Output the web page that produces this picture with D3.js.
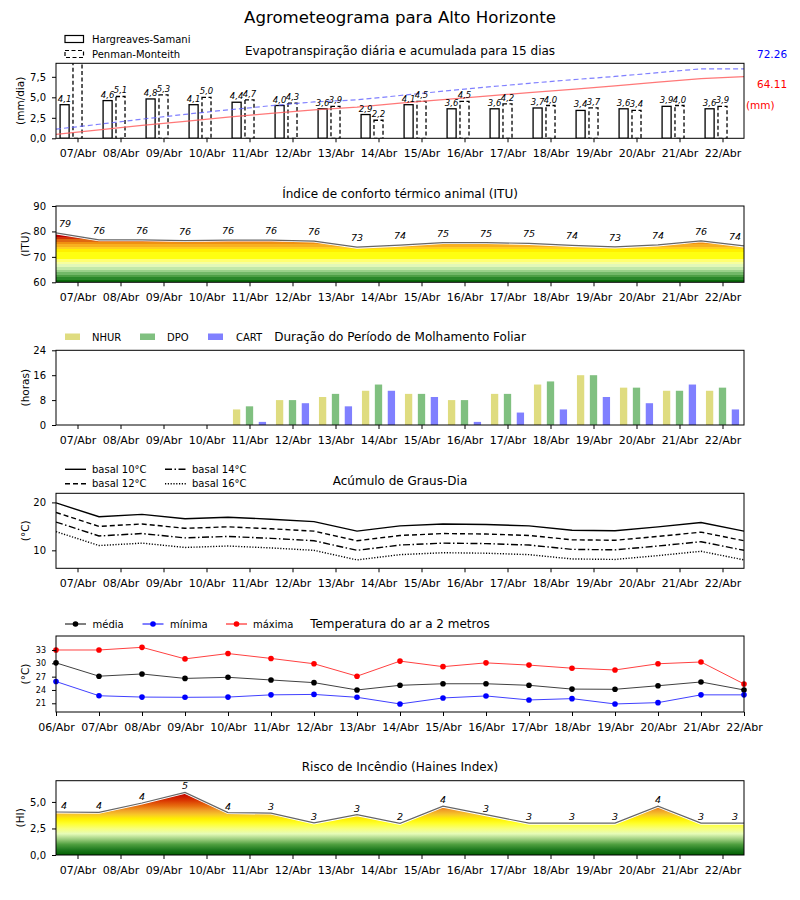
<!DOCTYPE html>
<html><head><meta charset="utf-8">
<script src="https://cdn.jsdelivr.net/npm/d3@7"></script>
<style>
body{margin:0;background:#fff}
text{font-family:"DejaVu Sans",sans-serif}
</style>
</head><body>
<svg id="c" width="800" height="900"></svg>
<script>
// ---------------- DATA ----------------
const dias = [7,8,9,10,11,12,13,14,15,16,17,18,19,20,21,22];
const diasTemp = [6,7,8,9,10,11,12,13,14,15,16,17,18,19,20,21,22];
const meioDias = [6.5,7.5,8.5,9.5,10.5,11.5,12.5,13.5,14.5,15.5,16.5,17.5,18.5,19.5,20.5,21.5,22.5];

// Evapotranspiração (mm/dia)
const etHargreaves = [4.1,4.6,4.8,4.1,4.4,4.0,3.6,2.9,4.1,3.6,3.6,3.7,3.4,3.6,3.9,3.6];
const etPenman     = [9.5,5.1,5.3,5.0,4.7,4.3,3.9,2.2,4.5,4.5,4.2,4.0,3.7,3.4,4.0,3.9];
const acumHargreaves = [4.1,8.7,13.5,17.6,22.0,26.0,29.6,32.5,36.6,40.2,43.8,47.5,50.9,54.5,58.4,62.0,64.11];
const acumPenman     = [9.5,14.6,19.9,24.9,29.6,33.9,37.8,40.0,44.5,49.0,53.2,57.2,60.9,64.3,68.3,72.26,72.26];

// ITU
const itu = [79.4,76.7,76.7,76.4,76.6,76.6,76.2,73.8,74.6,75.6,75.6,75.3,74.5,73.9,74.7,76.3,74.3];

// Molhamento foliar (horas)
const nhur = [0,0,0,0,5,8,9,11,10,8,10,13,16,12,11,11];
const dpo  = [0,0,0,0,6,8,10,13,10,8,10,14,16,12,11,12];
const cart = [0,0,0,0,1,7,6,11,9,1,4,5,9,7,13,5];

// Graus-dia
const basal10 = [19.9,17.0,17.5,16.6,16.9,16.5,16.0,14.0,15.1,15.5,15.4,15.1,14.2,14.1,14.9,15.8,14.0];
const basal12 = [17.9,15.0,15.5,14.6,14.9,14.5,14.0,12.0,13.1,13.5,13.4,13.1,12.2,12.1,12.9,13.8,12.0];
const basal14 = [15.9,13.0,13.5,12.6,12.9,12.5,12.0,10.0,11.1,11.5,11.4,11.1,10.2,10.1,10.9,11.8,10.0];
const basal16 = [13.9,11.0,11.5,10.6,10.9,10.5,10.0,8.0,9.1,9.5,9.4,9.1,8.2,8.1,8.9,9.8,8.0];

// Temperatura (°C)
const tMedia  = [30.1,27.1,27.6,26.6,26.85,26.25,25.65,24.0,25.05,25.4,25.4,25.05,24.2,24.15,24.95,25.8,24.0];
const tMinima = [25.9,22.7,22.4,22.35,22.4,22.9,23.0,22.35,20.85,22.2,22.65,21.75,22.05,20.85,21.15,22.9,22.9];
const tMaxima = [33.0,33.0,33.6,31.0,32.2,31.1,29.9,27.1,30.5,29.25,30.1,29.6,28.9,28.5,29.9,30.3,25.35];

// Haines
const haines = [4.05,4.02,4.9,5.9,4.0,3.95,3.02,3.8,2.98,4.6,3.8,3.0,3.0,3.0,4.6,3.0,3.0];

// tick values
const etTicks = [0,2.5,5,7.5];
const ituTicks = [60,70,80,90];
const molTicks = [0,8,16,24];
const gdTicks = [10,20];
const tTicks = [21,24,27,30,33];
const hiTicks = [0,2.5,5];

// ---------------- LAYOUT ----------------
const svg = d3.select("#c");
const W0 = 56, W1 = 744;
const xDay = d3.scaleLinear().domain([6.5,22.5]).range([W0,W1]);
const xTemp = d3.scaleLinear().domain([6,22]).range([W0,W1]);
const fmtDay = d => String(d).padStart(2,"0") + "/Abr";
const comma1 = d => d3.format(".1f")(d).replace(".", ",");
const defs = svg.append("defs");

svg.append("text").attr("x",400).attr("y",23).attr("text-anchor","middle")
  .attr("font-size",16.6).text("Agrometeograma para Alto Horizonte");

function clip(id, top, bottom){
  defs.append("clipPath").attr("id",id).append("rect")
    .attr("x",W0).attr("y",top).attr("width",W1-W0).attr("height",bottom-top);
}

function frame(top, bottom, x, y, o){
  const g = svg.append("g");
  const ax = g.append("g").attr("transform",`translate(0,${bottom})`)
    .call(d3.axisBottom(x).tickValues(o.xTicks).tickFormat(fmtDay).tickSize(4).tickPadding(7).tickSizeOuter(0));
  ax.select(".domain").remove();
  ax.selectAll("text").attr("font-size",11).attr("font-family","DejaVu Sans");
  const ay = g.append("g").attr("transform",`translate(${W0},0)`)
    .call(d3.axisLeft(y).tickValues(o.yTicks).tickFormat(o.yFmt).tickSize(4).tickPadding(6).tickSizeOuter(0));
  ay.select(".domain").remove();
  ay.selectAll("text").attr("font-size",o.yFont||10).attr("font-family","DejaVu Sans");
  g.append("rect").attr("x",W0).attr("y",top).attr("width",W1-W0).attr("height",bottom-top)
    .attr("fill","none").attr("stroke","#000").attr("stroke-width",1);
  g.append("text").attr("transform",`translate(${o.ylx},${(top+bottom)/2}) rotate(-90)`)
    .attr("text-anchor","middle").attr("dy","0.35em").attr("font-size",10.5).text(o.ylabel);
  g.append("text").attr("x",400).attr("y",o.titleY).attr("text-anchor","middle")
    .attr("font-size",12).text(o.title);
}

// ---------------- PANEL 1: ET ----------------
{
  const top=63.3, bottom=138.3;
  const y = d3.scaleLinear().domain([0,9.15]).range([bottom,top]);
  const y2 = d3.scaleLinear().domain([0,78]).range([bottom,top]);
  clip("cp1", top, bottom);
  const g = svg.append("g").attr("clip-path","url(#cp1)");
  const bw = xDay(0.21)-xDay(0);
  g.selectAll(".hs").data(dias).enter().append("rect")
    .attr("x",(d)=>xDay(d-0.3)-bw/2).attr("y",(d,i)=>y(etHargreaves[i]))
    .attr("width",bw).attr("height",(d,i)=>y(0)-y(etHargreaves[i]))
    .attr("fill","#fff").attr("stroke","#000").attr("stroke-width",1.3);
  g.selectAll(".pm").data(dias).enter().append("rect")
    .attr("x",(d)=>xDay(d)-bw/2).attr("y",(d,i)=>y(etPenman[i]))
    .attr("width",bw).attr("height",(d,i)=>y(0)-y(etPenman[i]))
    .attr("fill","#fff").attr("stroke","#000").attr("stroke-width",1.3).attr("stroke-dasharray","4,2.5");
  const lh = d3.line().x((d,i)=>xDay(meioDias[i])).y(d=>y2(d));
  g.append("path").attr("d",lh(acumHargreaves)).attr("fill","none").attr("stroke","#ff6060").attr("stroke-opacity",0.85).attr("stroke-width",1.2);
  g.append("path").attr("d",lh(acumPenman)).attr("fill","none").attr("stroke","#6060ff").attr("stroke-opacity",0.8).attr("stroke-width",1.2).attr("stroke-dasharray","5,3");
  const lg = svg.append("g").attr("font-style","italic").attr("font-size",8.5).attr("text-anchor","middle");
  dias.forEach((d,i)=>{
    lg.append("text").attr("x",xDay(d-0.3)).attr("y",y(etHargreaves[i])-3).text(comma1(etHargreaves[i]));
    if (etPenman[i] <= y.domain()[1])
      lg.append("text").attr("x",xDay(d)).attr("y",y(etPenman[i])-3).text(comma1(etPenman[i]));
  });
  frame(top,bottom,xDay,y,{xTicks:dias,yTicks:etTicks,yFmt:comma1,ylabel:"(mm/dia)",ylx:20,
    title:"Evapotranspiração diária e acumulada para 15 dias",titleY:55});
  svg.append("text").attr("x",757).attr("y",58).attr("font-size",10.5).attr("fill","blue")
    .text(acumPenman[acumPenman.length-1].toFixed(2));
  svg.append("text").attr("x",757).attr("y",88).attr("font-size",10.5).attr("fill","red")
    .text(acumHargreaves[acumHargreaves.length-1].toFixed(2));
  svg.append("text").attr("x",746).attr("y",109).attr("font-size",10.5).attr("fill","red").text("(mm)");
  // legend
  const L = svg.append("g").attr("font-size",10);
  L.append("rect").attr("x",65).attr("y",35.5).attr("width",18.5).attr("height",7).attr("fill","#fff").attr("stroke","#000").attr("stroke-width",1.2);
  L.append("rect").attr("x",65).attr("y",50.5).attr("width",18.5).attr("height",7).attr("fill","#fff").attr("stroke","#000").attr("stroke-width",1.2).attr("stroke-dasharray","4,2.5");
  L.append("text").attr("x",92).attr("y",42.5).text("Hargreaves-Samani");
  L.append("text").attr("x",92).attr("y",57.5).text("Penman-Monteith");
}

// ---------------- PANEL 2: ITU ----------------
{
  const top=206, bottom=282.3;
  const y = d3.scaleLinear().domain([60,90]).range([bottom,top]);
  const edges = [60,61,62,63,64,65,66,67,68,69,72,73,74,75,76,77,78,80];
  const cols = ["#0b6b0b","#2a872a","#4d9f45","#72b868","#9ad08a","#c2e8a8","#e2f8b8","#f6ffa0","#ffff70","#ffff10","#fff000","#ffd020","#f8b020","#f09010","#e06810","#d03008","#c00000"];
  const gr = defs.append("linearGradient").attr("id","gITU").attr("gradientUnits","userSpaceOnUse")
    .attr("x1",0).attr("x2",0).attr("y1",y(60)).attr("y2",y(80));
  cols.forEach((c,i)=>{
    gr.append("stop").attr("offset",(edges[i]-60)/20).attr("stop-color",c);
    gr.append("stop").attr("offset",(edges[i+1]-60)/20).attr("stop-color",c);
  });
  clip("cp2", top, bottom);
  const g = svg.append("g").attr("clip-path","url(#cp2)");
  const area = d3.area().x((d,i)=>xDay(meioDias[i])).y0(y(60)).y1(d=>y(d));
  const line = d3.line().x((d,i)=>xDay(meioDias[i])).y(d=>y(d));
  g.append("path").attr("d",area(itu)).attr("fill","url(#gITU)");
  g.append("path").attr("d",line(itu)).attr("fill","none").attr("stroke","#fff").attr("stroke-width",3);
  g.append("path").attr("d",line(itu)).attr("fill","none").attr("stroke","#666").attr("stroke-width",1.2);
  const lg = svg.append("g").attr("font-style","italic").attr("font-size",9.5).attr("text-anchor","middle");
  itu.forEach((v,i)=>{
    const x = Math.max(W0+9, Math.min(W1-9, xDay(meioDias[i])));
    lg.append("text").attr("x",x).attr("y",y(v)-6).text(Math.floor(v));
  });
  frame(top,bottom,xDay,y,{xTicks:dias,yTicks:ituTicks,yFmt:d3.format("d"),ylabel:"(ITU)",ylx:25,
    title:"Índice de conforto térmico animal (ITU)",titleY:198});
}

// ---------------- PANEL 3: Molhamento ----------------
{
  const top=350.3, bottom=425;
  const y = d3.scaleLinear().domain([0,24]).range([bottom,top]);
  const bw = xDay(0.17)-xDay(0);
  const series = [[nhur,-0.3,"#dfdc80"],[dpo,0,"#80c080"],[cart,0.3,"#8080ff"]];
  const g = svg.append("g");
  series.forEach(([vals,off,col])=>{
    g.selectAll(null).data(dias).enter().append("rect")
      .attr("x",d=>xDay(d+off)-bw/2).attr("y",(d,i)=>y(vals[i]))
      .attr("width",bw).attr("height",(d,i)=>y(0)-y(vals[i])).attr("fill",col);
  });
  frame(top,bottom,xDay,y,{xTicks:dias,yTicks:molTicks,yFmt:d3.format("d"),ylabel:"(horas)",ylx:25,
    title:"Duração do Período de Molhamento Foliar",titleY:341});
  const L = svg.append("g").attr("font-size",10);
  [["NHUR","#dfdc80",65,92],["DPO","#80c080",140,167],["CART","#8080ff",208,236]].forEach(([t,c,sx,tx])=>{
    L.append("rect").attr("x",sx).attr("y",333.5).attr("width",15).attr("height",6.5).attr("fill",c);
    L.append("text").attr("x",tx).attr("y",340.5).text(t);
  });
}

// ---------------- PANEL 4: Graus-dia ----------------
{
  const top=493.3, bottom=568.3;
  const y = d3.scaleLinear().domain([6.25,21.9]).range([bottom,top]);
  const line = d3.line().x((d,i)=>xDay(meioDias[i])).y(d=>y(d));
  const styles = [[basal10,null],[basal12,"5,3"],[basal14,"7,2.5,1.5,2.5"],[basal16,"1.2,1.6"]];
  clip("cp4", top, bottom);
  const g = svg.append("g").attr("clip-path","url(#cp4)");
  styles.forEach(([vals,dash])=>{
    g.append("path").attr("d",line(vals)).attr("fill","none").attr("stroke","#000").attr("stroke-width",1.4)
      .attr("stroke-dasharray",dash);
  });
  frame(top,bottom,xDay,y,{xTicks:dias,yTicks:gdTicks,yFmt:d3.format("d"),ylabel:"(°C)",ylx:25,
    title:"Acúmulo de Graus-Dia",titleY:485});
  const L = svg.append("g").attr("font-size",10);
  [["basal 10°C",null,65,469.3],["basal 12°C","5,3",65,483.8],["basal 14°C","7,2.5,1.5,2.5",165,469.3],["basal 16°C","1.2,1.6",165,483.8]].forEach(([t,dash,sx,yy])=>{
    L.append("line").attr("x1",sx).attr("x2",sx+21).attr("y1",yy).attr("y2",yy).attr("stroke","#000").attr("stroke-width",1.4).attr("stroke-dasharray",dash);
    L.append("text").attr("x",sx+27).attr("y",yy+3.6).text(t);
  });
}

// ---------------- PANEL 5: Temperatura ----------------
{
  const top=636, bottom=712;
  const y = d3.scaleLinear().domain([19.04,36.15]).range([bottom,top]);
  const line = d3.line().x((d,i)=>xTemp(diasTemp[i])).y(d=>y(d));
  const ser = [[tMedia,"#000"],[tMinima,"#0000ff"],[tMaxima,"#ff0000"]];
  const g = svg.append("g");
  ser.forEach(([vals,c])=>{
    g.append("path").attr("d",line(vals)).attr("fill","none").attr("stroke",c).attr("stroke-opacity",0.75).attr("stroke-width",1);
    g.selectAll(null).data(vals).enter().append("circle")
      .attr("cx",(d,i)=>xTemp(diasTemp[i])).attr("cy",d=>y(d)).attr("r",2.8).attr("fill",c);
  });
  frame(top,bottom,xTemp,y,{xTicks:diasTemp,yTicks:tTicks,yFmt:d3.format("d"),yFont:8,ylabel:"(°C)",ylx:25,
    title:"Temperatura do ar a 2 metros",titleY:628});
  const L = svg.append("g").attr("font-size",10);
  [["média","#000",65,92.5],["mínima","#0000ff",142.5,170],["máxima","#ff0000",226,253]].forEach(([t,c,sx,tx])=>{
    L.append("line").attr("x1",sx).attr("x2",sx+21).attr("y1",624).attr("y2",624).attr("stroke",c).attr("stroke-width",1);
    L.append("circle").attr("cx",sx+10.5).attr("cy",624).attr("r",2.8).attr("fill",c);
    L.append("text").attr("x",tx).attr("y",627.5).text(t);
  });
}

// ---------------- PANEL 6: Haines ----------------
{
  const top=780.7, bottom=855;
  const y = d3.scaleLinear().domain([0,7]).range([bottom,top]);
  const stops = [[0,"#005f00"],[0.5,"#1f7a1f"],[1.0,"#4f9f3f"],[1.5,"#9fcf80"],[2.0,"#e6fcb8"],[2.5,"#f8ff78"],[3.0,"#ffff28"],[3.4,"#fff000"],[3.8,"#f8c828"],[4.2,"#f0a028"],[4.6,"#e87010"],[5.2,"#d83000"],[5.8,"#c00000"],[7,"#c00000"]];
  const gr = defs.append("linearGradient").attr("id","gHI").attr("gradientUnits","userSpaceOnUse")
    .attr("x1",0).attr("x2",0).attr("y1",y(0)).attr("y2",y(7));
  stops.forEach(([v,c])=>gr.append("stop").attr("offset",v/7).attr("stop-color",c));
  clip("cp6", top, bottom);
  const g = svg.append("g").attr("clip-path","url(#cp6)");
  const area = d3.area().x((d,i)=>xDay(meioDias[i])).y0(y(0)).y1(d=>y(d));
  const line = d3.line().x((d,i)=>xDay(meioDias[i])).y(d=>y(d));
  g.append("path").attr("d",area(haines)).attr("fill","url(#gHI)");
  g.append("path").attr("d",line(haines)).attr("fill","none").attr("stroke","#fff").attr("stroke-width",3);
  g.append("path").attr("d",line(haines)).attr("fill","none").attr("stroke","#666").attr("stroke-width",1.2);
  const lg = svg.append("g").attr("font-style","italic").attr("font-size",9.5).attr("text-anchor","middle");
  haines.forEach((v,i)=>{
    const x = Math.max(W0+8, Math.min(W1-9, xDay(meioDias[i])));
    lg.append("text").attr("x",x).attr("y",y(v)-3).text(Math.floor(v));
  });
  frame(top,bottom,xDay,y,{xTicks:dias,yTicks:hiTicks,yFmt:comma1,ylabel:"(HI)",ylx:20,
    title:"Risco de Incêndio (Haines Index)",titleY:771});
}
</script>
</body></html>
